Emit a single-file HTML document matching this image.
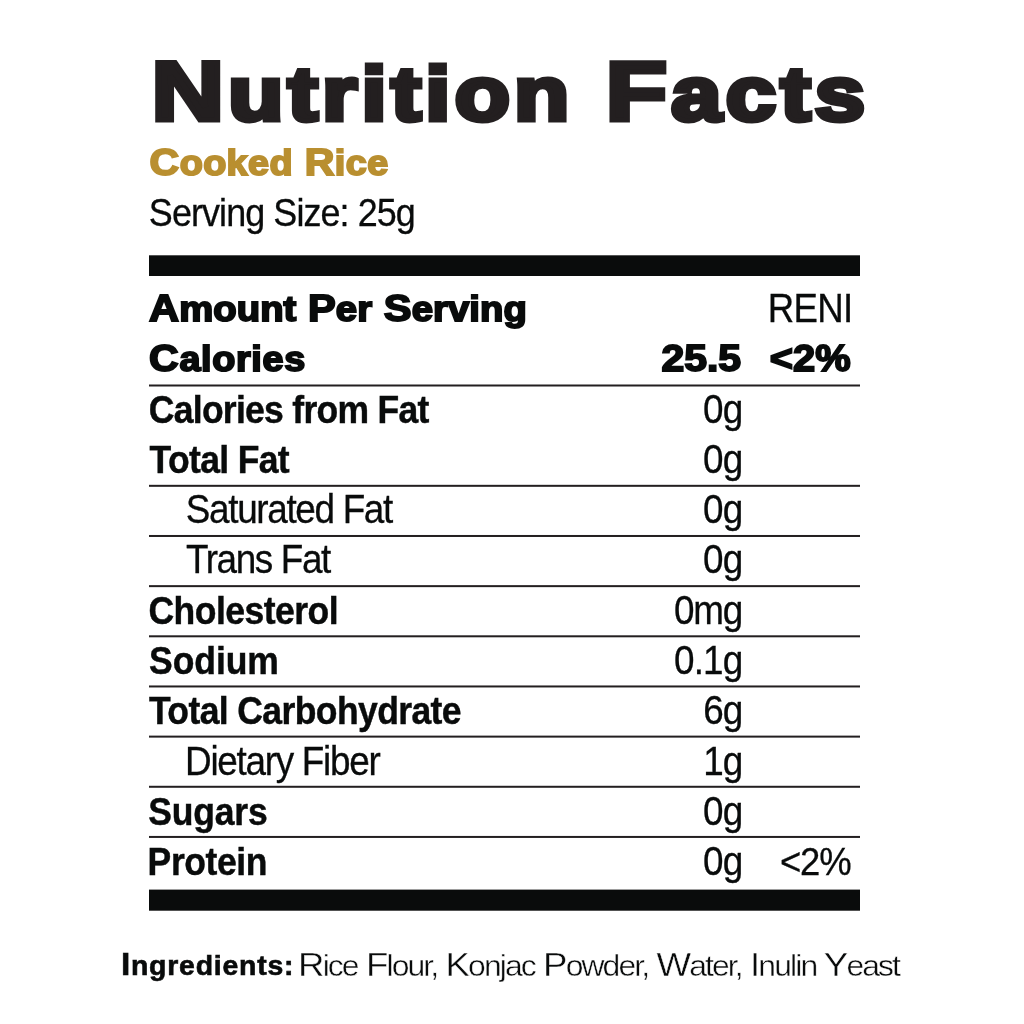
<!DOCTYPE html>
<html><head><meta charset="utf-8"><title>Nutrition Facts</title>
<style>
html,body{margin:0;padding:0;background:#ffffff;width:1024px;height:1024px;overflow:hidden}
svg{display:block;will-change:transform}
text{font-family:"Liberation Sans",sans-serif;white-space:pre}
</style></head><body>
<svg width="1024" height="1024" viewBox="0 0 1024 1024">
<rect x="0" y="0" width="1024" height="1024" fill="#ffffff"/>
<rect x="149.00" y="255.30" width="711.00" height="20.70" fill="#0a0c0c"/>
<rect x="149.00" y="384.50" width="711.00" height="2.00" fill="#231f20"/>
<rect x="149.00" y="484.82" width="711.00" height="2.00" fill="#231f20"/>
<rect x="149.00" y="534.98" width="711.00" height="2.00" fill="#231f20"/>
<rect x="149.00" y="585.14" width="711.00" height="2.00" fill="#231f20"/>
<rect x="149.00" y="635.30" width="711.00" height="2.00" fill="#231f20"/>
<rect x="149.00" y="685.46" width="711.00" height="2.00" fill="#231f20"/>
<rect x="149.00" y="735.62" width="711.00" height="2.00" fill="#231f20"/>
<rect x="149.00" y="785.78" width="711.00" height="2.00" fill="#231f20"/>
<rect x="149.00" y="835.94" width="711.00" height="2.00" fill="#231f20"/>
<rect x="149.00" y="889.60" width="711.00" height="21.10" fill="#0a0c0c"/>
<text transform="matrix(1.2000 0 0 1 151.49 120.25)" x="0" y="0" font-size="83.576" font-weight="bold" fill="#231f20" stroke="#231f20" stroke-width="5.00" textLength="594.58" lengthAdjust="spacing">N<tspan font-size="75.218">utrition</tspan> F<tspan font-size="75.218">acts</tspan></text>
<text transform="matrix(1.1000 0 0 1 149.58 174.85)" x="0" y="0" font-size="37.355" font-weight="bold" fill="#b98f30" stroke="#b98f30" stroke-width="1.90" textLength="216.96" lengthAdjust="spacing">C<tspan font-size="34.366">ooked</tspan> R<tspan font-size="34.366">ice</tspan></text>
<text transform="matrix(0.9200 0 0 1 148.87 225.55)" x="0" y="0" font-size="39.099" font-weight="normal" fill="#090b0b" stroke="#090b0b" stroke-width="0.30" textLength="290.16" lengthAdjust="spacing">Serving Size: 25g</text>
<text transform="matrix(1.1000 0 0 1 149.06 320.95)" x="0" y="0" font-size="37.791" font-weight="bold" fill="#090b0b" stroke="#090b0b" stroke-width="1.90" textLength="343.43" lengthAdjust="spacing">A<tspan font-size="34.767">mount</tspan> P<tspan font-size="34.767">er</tspan> S<tspan font-size="34.767">erving</tspan></text>
<text transform="matrix(0.9200 0 0 1 767.71 321.75)" x="0" y="0" font-size="39.826" font-weight="normal" fill="#090b0b" stroke="#090b0b" stroke-width="0.30" textLength="92.85" lengthAdjust="spacing">RENI</text>
<text transform="matrix(1.1000 0 0 1 149.07 370.75)" x="0" y="0" font-size="37.355" font-weight="bold" fill="#090b0b" stroke="#090b0b" stroke-width="1.90" textLength="141.98" lengthAdjust="spacing">C<tspan font-size="34.366">alories</tspan></text>
<text x="661.47" y="370.75" font-size="37.355" font-weight="bold" fill="#090b0b" stroke="#090b0b" stroke-width="1.90" textLength="79.67" lengthAdjust="spacingAndGlyphs">25.5</text>
<text x="769.83" y="370.75" font-size="37.355" font-weight="bold" fill="#090b0b" stroke="#090b0b" stroke-width="1.90" textLength="80.83" lengthAdjust="spacingAndGlyphs">&lt;2%</text>
<text transform="matrix(0.9000 0 0 1 148.80 423.00)" x="0" y="0" font-size="39.462" font-weight="bold" fill="#090b0b" stroke="#090b0b" stroke-width="0.45" textLength="311.65" lengthAdjust="spacing">Calories from Fat</text>
<text transform="matrix(0.9000 0 0 1 149.54 473.00)" x="0" y="0" font-size="39.462" font-weight="bold" fill="#090b0b" stroke="#090b0b" stroke-width="0.45" textLength="155.67" lengthAdjust="spacing">Total Fat</text>
<text transform="matrix(0.9200 0 0 1 185.81 523.08)" x="0" y="0" font-size="40.116" font-weight="normal" fill="#090b0b" stroke="#090b0b" stroke-width="0.30" textLength="225.50" lengthAdjust="spacing">Saturated Fat</text>
<text transform="matrix(0.9200 0 0 1 185.89 573.08)" x="0" y="0" font-size="40.116" font-weight="normal" fill="#090b0b" stroke="#090b0b" stroke-width="0.30" textLength="158.05" lengthAdjust="spacing">Trans Fat</text>
<text transform="matrix(0.9000 0 0 1 148.41 624.00)" x="0" y="0" font-size="39.462" font-weight="bold" fill="#090b0b" stroke="#090b0b" stroke-width="0.45" textLength="211.34" lengthAdjust="spacing">Cholesterol</text>
<text transform="matrix(0.9000 0 0 1 149.02 674.00)" x="0" y="0" font-size="39.462" font-weight="bold" fill="#090b0b" stroke="#090b0b" stroke-width="0.45" textLength="144.37" lengthAdjust="spacing">Sodium</text>
<text transform="matrix(0.9000 0 0 1 148.88 724.00)" x="0" y="0" font-size="39.462" font-weight="bold" fill="#090b0b" stroke="#090b0b" stroke-width="0.45" textLength="347.41" lengthAdjust="spacing">Total Carbohydrate</text>
<text transform="matrix(0.9200 0 0 1 185.08 775.08)" x="0" y="0" font-size="40.116" font-weight="normal" fill="#090b0b" stroke="#090b0b" stroke-width="0.30" textLength="212.69" lengthAdjust="spacing">Dietary Fiber</text>
<text transform="matrix(0.9000 0 0 1 148.20 825.00)" x="0" y="0" font-size="39.462" font-weight="bold" fill="#090b0b" stroke="#090b0b" stroke-width="0.45" textLength="132.72" lengthAdjust="spacing">Sugars</text>
<text transform="matrix(0.9000 0 0 1 147.61 875.00)" x="0" y="0" font-size="39.462" font-weight="bold" fill="#090b0b" stroke="#090b0b" stroke-width="0.45" textLength="133.20" lengthAdjust="spacing">Protein</text>
<text transform="matrix(0.9200 0 0 1 703.00 423.08)" x="0" y="0" font-size="40.116" font-weight="normal" fill="#090b0b" stroke="#090b0b" stroke-width="0.30" textLength="43.91" lengthAdjust="spacing">0g</text>
<text transform="matrix(0.9200 0 0 1 703.00 473.08)" x="0" y="0" font-size="40.116" font-weight="normal" fill="#090b0b" stroke="#090b0b" stroke-width="0.30" textLength="43.91" lengthAdjust="spacing">0g</text>
<text transform="matrix(0.9200 0 0 1 703.00 523.08)" x="0" y="0" font-size="40.116" font-weight="normal" fill="#090b0b" stroke="#090b0b" stroke-width="0.30" textLength="43.91" lengthAdjust="spacing">0g</text>
<text transform="matrix(0.9200 0 0 1 703.00 573.08)" x="0" y="0" font-size="40.116" font-weight="normal" fill="#090b0b" stroke="#090b0b" stroke-width="0.30" textLength="43.91" lengthAdjust="spacing">0g</text>
<text transform="matrix(0.9200 0 0 1 673.93 624.08)" x="0" y="0" font-size="40.116" font-weight="normal" fill="#090b0b" stroke="#090b0b" stroke-width="0.30" textLength="75.51" lengthAdjust="spacing">0mg</text>
<text transform="matrix(0.9200 0 0 1 673.92 674.08)" x="0" y="0" font-size="40.116" font-weight="normal" fill="#090b0b" stroke="#090b0b" stroke-width="0.30" textLength="75.52" lengthAdjust="spacing">0.1g</text>
<text transform="matrix(0.9200 0 0 1 703.25 724.08)" x="0" y="0" font-size="40.116" font-weight="normal" fill="#090b0b" stroke="#090b0b" stroke-width="0.30" textLength="43.58" lengthAdjust="spacing">6g</text>
<text transform="matrix(0.9200 0 0 1 703.18 775.08)" x="0" y="0" font-size="40.116" font-weight="normal" fill="#090b0b" stroke="#090b0b" stroke-width="0.30" textLength="43.59" lengthAdjust="spacing">1g</text>
<text transform="matrix(0.9200 0 0 1 703.00 825.08)" x="0" y="0" font-size="40.116" font-weight="normal" fill="#090b0b" stroke="#090b0b" stroke-width="0.30" textLength="43.91" lengthAdjust="spacing">0g</text>
<text transform="matrix(0.9200 0 0 1 703.00 875.08)" x="0" y="0" font-size="40.116" font-weight="normal" fill="#090b0b" stroke="#090b0b" stroke-width="0.30" textLength="43.91" lengthAdjust="spacing">0g</text>
<text transform="matrix(0.9200 0 0 1 779.93 875.08)" x="0" y="0" font-size="39.680" font-weight="normal" fill="#090b0b" stroke="#090b0b" stroke-width="0.30" textLength="78.05" lengthAdjust="spacing">&lt;2%</text>
<text transform="matrix(1.0500 0 0 1 120.90 975.40)" x="0" y="0" font-size="31.831" font-weight="bold" fill="#090b0b" stroke="#090b0b" stroke-width="0.60" textLength="164.36" lengthAdjust="spacing">I<tspan font-size="27.057">ngredients:</tspan></text>
<text transform="matrix(1.1000 0 0 1 298.09 975.90)" x="0" y="0" font-size="33.285" font-weight="normal" fill="#090b0b" stroke="#ffffff" stroke-width="0.40" textLength="548.08" lengthAdjust="spacing">R<tspan font-size="28.958">ice</tspan> F<tspan font-size="28.958">lour,</tspan> K<tspan font-size="28.958">onjac</tspan> P<tspan font-size="28.958">owder,</tspan> W<tspan font-size="28.958">ater,</tspan> I<tspan font-size="28.958">nulin</tspan> Y<tspan font-size="28.958">east</tspan></text>
</svg></body></html>
